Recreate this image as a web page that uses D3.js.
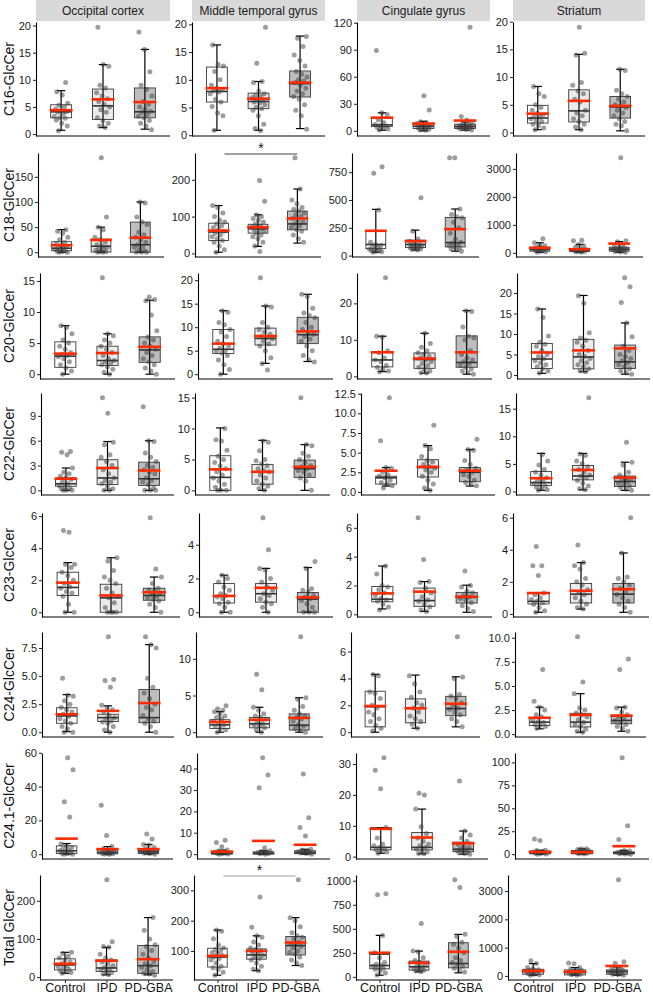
<!DOCTYPE html>
<html>
<head>
<meta charset="utf-8">
<script src="https://cdn.jsdelivr.net/npm/d3@7"></script>
<style>
  body { margin: 0; background: #fff; }
  text { font-family: "Liberation Sans", Arial, sans-serif; }
</style>
</head>
<body>
<div id="chart"></div>
<script>
// categories
var regions = ["Occipital cortex", "Middle temporal gyrus", "Cingulate gyrus", "Striatum"];
var groups = ["Control", "IPD", "PD-GBA"];
var lipids = ["C16-GlcCer", "C18-GlcCer", "C20-GlcCer", "C22-GlcCer",
  "C23-GlcCer", "C24-GlcCer", "C24.1-GlcCer", "Total GlcCer"];

// y tick values per lipid (row) and region (column)
var yTicks = [
  [[0, 5, 10, 15, 20], [0, 5, 10, 15, 20], [0, 30, 60, 90, 120], [0, 5, 10, 15, 20]],
  [[0, 50, 100, 150], [0, 100, 200], [0, 250, 500, 750], [0, 1000, 2000, 3000]],
  [[0, 5, 10, 15], [0, 5, 10, 15, 20], [0, 10, 20], [0, 5, 10, 15, 20]],
  [[0, 3, 6, 9], [0, 5, 10, 15], [0, 2.5, 5, 7.5, 10, 12.5], [0, 5, 10, 15]],
  [[0, 2, 4, 6], [0, 2, 4], [0, 2, 4, 6], [0, 2, 4, 6]],
  [[0, 2.5, 5, 7.5], [0, 5, 10], [0, 2, 4, 6], [0, 2.5, 5, 7.5, 10]],
  [[0, 20, 40, 60], [0, 10, 20, 30, 40], [0, 10, 20, 30], [0, 25, 50, 75, 100]],
  [[0, 100, 200], [100, 200, 300], [0, 250, 500, 750, 1000], [0, 1000, 2000, 3000]]
];

// box stats: [lower whisker, q1, median, q3, upper whisker]
var boxC16 = [
  [[0.7, 3.0, 4.1, 5.4, 8.0], [1.2, 2.7, 5.2, 8.3, 12.8], [0.9, 3.0, 4.1, 8.5, 15.6]],
  [[0.9, 6.0, 7.9, 12.3, 16.3], [0.9, 4.8, 6.1, 7.6, 9.7], [1.2, 6.9, 9.3, 11.6, 17.9]],
  [[0.7, 4.8, 6.6, 14.7, 20], [0, 2.6, 5.1, 8.4, 10.6], [0.7, 2.6, 4.8, 7.3, 9.9]],
  [[0.5, 1.7, 2.6, 4.9, 8.3], [0.5, 1.9, 3.9, 7.7, 14.1], [0.3, 2.6, 4.6, 6.5, 11.4]]
];
var boxC18 = [
  [[0, 3, 8, 21, 45], [0, 0.5, 12, 26, 50], [0, 0, 15, 60, 100]],
  [[3, 35, 58, 82, 130], [19, 55, 67, 79, 105], [28, 64, 80, 115, 175]],
  [[30, 63, 100, 223, 416], [50, 72, 100, 139, 229], [40, 78, 117, 343, 419]],
  [[20, 60, 120, 200, 360], [20, 50, 90, 140, 300], [20, 60, 130, 200, 400]]
];
var boxC20 = [
  [[0, 1.1, 2.9, 5.2, 7.8], [0, 1.4, 2.2, 4.5, 6.5], [0, 1.9, 3.9, 6.0, 11.9]],
  [[0, 4.4, 5.3, 9.5, 13.5], [2.3, 6.2, 7.6, 9.8, 14.5], [2.7, 6.5, 8.4, 12.1, 17]],
  [[1.3, 2.6, 4.5, 6.8, 11], [0.9, 2.2, 4.6, 6.4, 11.8], [0.6, 2.5, 3.8, 11.1, 18]],
  [[0.4, 1.6, 3.9, 7.7, 16.1], [0.8, 1.5, 4.4, 8.7, 19.4], [0.2, 1.6, 3.2, 7.3, 12.7]]
];
var boxC22 = [
  [[0, 0.5, 0.8, 1.5, 2.7], [0, 0.7, 1.5, 3.7, 5.9], [0, 0.6, 1.4, 3.4, 6.0]],
  [[0, 0, 2.1, 5.6, 10.1], [0, 1.0, 3.0, 4.2, 8.1], [0, 2.1, 3.5, 4.9, 7.4]],
  [[0.75, 1.0, 1.8, 2.0, 3.1], [0.2, 1.9, 3.1, 4.1, 5.9], [0.75, 1.3, 2.5, 3.1, 5.4]],
  [[0.2, 1.1, 1.6, 3.6, 6.9], [0.3, 2.1, 2.8, 4.7, 6.9], [0.2, 0.9, 1.8, 2.8, 5.3]]
];
var boxC23 = [
  [[0, 1.05, 1.55, 2.5, 3.1], [0, 0, 0.9, 1.75, 3.4], [0, 0.75, 1.05, 1.5, 2.2]],
  [[0, 0.55, 0.95, 1.7, 2.2], [0, 0.6, 1.1, 1.7, 2.6], [0, 0, 0.78, 1.17, 2.65]],
  [[0.37, 0.87, 1.05, 1.93, 3.35], [0.2, 0.55, 0.95, 1.82, 2.27], [0.14, 0.78, 1.17, 1.52, 2.02]],
  [[0.1, 0.62, 0.78, 1.27, 1.33], [0.3, 0.68, 1.23, 1.9, 3.2], [0.1, 0.68, 1.23, 1.9, 3.8]]
];
var boxC24 = [
  [[0.05, 0.8, 1.45, 2.18, 3.35], [0, 0.95, 1.3, 1.6, 2.35], [0, 0.85, 1.3, 3.8, 7.8]],
  [[0, 0.5, 1.0, 1.7, 2.8], [0, 0.6, 1.15, 2.0, 3.4], [0, 0.3, 0.95, 2.5, 4.7]],
  [[0, 0.4, 1.9, 3.05, 4.3], [0.3, 0.7, 1.78, 2.48, 4.25], [0.4, 1.23, 1.76, 2.67, 4.12]],
  [[0.55, 0.9, 1.25, 1.7, 2.8], [0.2, 0.75, 1.25, 2.16, 4.2], [0.3, 1.08, 1.42, 1.83, 2.8]]
];
var boxC241 = [
  [[0, 0.4, 2.0, 4.9, 6.3], [0, 0.2, 1.0, 2.0, 4.5], [0, 0.4, 1.4, 2.4, 5.7]],
  [[0, 0, 0.5, 1.1, 1.9], [0, 0, 0.5, 1.1, 1.6], [0, 0.2, 0.8, 1.6, 2.3]],
  [[1.1, 2.2, 3.0, 9.4, 9.4], [0.9, 2.2, 3.0, 7.8, 15.4], [0.8, 1.6, 2.4, 4.7, 8.3]],
  [[0, 0.4, 1.5, 3.3, 4.3], [0, 0.4, 1.8, 4.0, 5.8], [0, 0.4, 1.5, 2.5, 4]]
];
var boxTot = [
  [[10, 19, 32, 48, 65], [6, 15, 24, 45, 78], [6, 10, 30, 83, 156]],
  [[20, 47, 80, 109, 169], [35, 73, 87, 107, 150], [52, 87, 118, 148, 210]],
  [[17, 84, 118, 233, 432], [52, 70, 105, 164, 268], [42, 94, 139, 355, 442]],
  [[24, 59, 153, 235, 435], [24, 35, 118, 212, 294], [24, 59, 153, 212, 318]]
];

// group means (red bars)
var meanC16 = [[4.4, 6.4, 5.9], [8.5, 6.6, 9.5], [14.6, 8.0, 11.4], [3.4, 5.7, 4.8]];
var meanC18 = [[14, 24.5, 29], [62, 71, 95], [223, 130, 238], [180, 130, 330]];
var meanC20 = [[3.3, 3.4, 4.4], [6.5, 8.1, 9.1], [6.6, 4.9, 6.6], [5.5, 6.0, 6.5]];
var meanC22 = [[1.4, 2.7, 2.4], [3.4, 3.0, 3.8], [2.7, 3.2, 2.7], [2.4, 3.9, 2.5]];
var meanC23 = [[1.85, 1.05, 1.25], [0.97, 1.45, 0.88], [1.45, 1.57, 1.22], [1.3, 1.44, 1.54]];
var meanC24 = [[1.6, 1.9, 2.6], [1.4, 1.7, 1.95], [1.95, 1.78, 2.12], [1.7, 2.0, 1.93]];
var meanC241 = [[9.2, 3.0, 3.0], [1.2, 6.2, 4.4], [9.0, 6.2, 4.3], [2.5, 2.2, 8.7]];
var meanTot = [[35, 43, 47], [84, 100, 128], [251, 146, 261], [176, 153, 353]];

// individual samples
var ptsC16 = [
  [[0.6, 1.5, 2.0, 2.6, 2.9, 3.0, 3.3, 3.7, 4.0, 4.1, 4.3, 4.6, 5.0, 5.3, 5.7, 7.2, 7.8, 9.5],
   [1.2, 1.5, 2.0, 2.5, 3.0, 4.0, 4.5, 5.0, 5.5, 6.0, 6.5, 7.0, 7.6, 8.5, 9.0, 12.5, 12.8, 19.7],
   [0.8, 1.5, 2.0, 2.5, 3.0, 3.3, 3.6, 4.0, 4.2, 4.6, 5.0, 5.5, 6.0, 7.0, 8.2, 9.0, 11.5, 15.6, 18.8]],
  [[0.9, 3.5, 4.0, 5.2, 6.0, 6.5, 7.5, 7.8, 8.0, 8.2, 8.5, 9.0, 10.0, 11.5, 12.5, 12.8, 16.3],
   [0.8, 1.2, 2.0, 3.5, 4.5, 4.8, 5.0, 5.5, 5.8, 6.0, 6.2, 6.5, 6.8, 7.0, 7.2, 7.5, 8.0, 9.5, 9.7, 13.0, 19.5],
   [1.1, 3.5, 4.5, 5.5, 6.5, 7.0, 7.5, 8.0, 8.5, 9.0, 9.5, 9.8, 10.0, 10.5, 11.0, 11.5, 12.5, 13.5, 14.5, 16.0, 17.5, 17.8]],
  [[1, 2, 3, 4, 5, 6, 7, 9, 12, 18, 20, 89],
   [0.5, 1, 1.5, 2, 3, 3.5, 4, 4.5, 5, 5.5, 6, 7, 8, 9, 10, 23, 39],
   [1, 1.5, 2, 2.5, 3, 3.5, 4, 4.5, 5, 5.5, 6, 7, 8, 9.5, 12, 16, 115]],
  [[0.5, 0.8, 1.2, 1.5, 2, 2.2, 2.5, 2.8, 3, 3.2, 3.5, 4, 4.5, 5, 6.5, 7, 8.3],
   [0.5, 1, 1.5, 2, 2.5, 3, 3.5, 4, 5.5, 6, 7, 7.5, 8.5, 9, 14, 14.3, 19],
   [0.3, 1.2, 1.5, 2, 2.5, 3, 3.5, 4, 4.5, 4.8, 5, 5.5, 6, 6.5, 7, 7.6, 11.2, 11.4]]
];
var ptsC18 = [
  [[0, 0, 1, 2, 3, 5, 6, 8, 10, 12, 14, 17, 20, 25, 30, 38, 42, 45],
   [0, 0, 1, 2, 4, 6, 8, 10, 12, 15, 20, 25, 30, 45, 50, 70, 188],
   [0, 0, 0, 3, 6, 10, 12, 15, 20, 25, 30, 35, 40, 55, 60, 70, 98, 100]],
  [[3, 10, 20, 30, 35, 40, 45, 50, 55, 60, 65, 70, 75, 80, 85, 90, 100, 110, 125, 130],
   [5, 20, 30, 40, 45, 50, 55, 60, 62, 65, 68, 70, 72, 75, 80, 85, 90, 95, 100, 105, 142, 198],
   [30, 40, 50, 60, 65, 70, 75, 80, 85, 90, 95, 100, 105, 110, 115, 120, 125, 135, 145, 175, 260]],
  [[30, 35, 40, 45, 50, 55, 60, 70, 80, 90, 100, 120, 410, 740, 800],
   [50, 55, 60, 65, 70, 75, 80, 85, 90, 95, 100, 110, 130, 150, 220, 520],
   [40, 50, 60, 70, 80, 90, 100, 110, 120, 150, 200, 250, 300, 340, 350, 370, 420, 880, 880]],
  [[20, 40, 60, 80, 100, 120, 150, 180, 200, 250, 300, 360, 500],
   [20, 30, 50, 60, 80, 90, 100, 120, 150, 200, 250, 300, 430, 450],
   [20, 30, 50, 70, 90, 110, 130, 150, 170, 200, 250, 300, 400, 430, 3400]]
];
var ptsC20 = [
  [[0, 0.5, 1, 1.5, 2, 2.5, 2.8, 3, 3.2, 3.5, 4, 4.5, 5, 5.5, 6.5, 7.5, 7.8],
   [0, 0.3, 0.8, 1.2, 1.5, 1.8, 2, 2.2, 2.5, 3, 3.5, 4, 4.5, 5, 5.5, 6.2, 6.5, 15.5],
   [0, 0.5, 1, 1.5, 2, 2.5, 3, 3.5, 4, 4.5, 5, 5.5, 6, 7, 9.5, 11.8, 12, 12.4]],
  [[0, 1, 2, 3, 4, 4.5, 4.8, 5, 5.5, 6, 6.5, 7, 8, 9, 9.5, 10.5, 11, 13.2, 13.5],
   [0.9, 2.2, 3.5, 5, 6, 6.5, 7, 7.5, 7.8, 8, 8.5, 9, 9.5, 10, 11, 14.3, 14.5, 20.5],
   [2.6, 3, 4, 5, 6, 7, 7.5, 8, 8.5, 9, 9.5, 10, 11, 12, 12.5, 13, 14, 16.5, 17]],
  [[1.3, 1.5, 2, 2.5, 3, 4, 4.5, 5, 6.5, 7, 10.8, 11, 27],
   [0.9, 1, 1.5, 2, 2.5, 3, 3.5, 4, 4.5, 5, 5.5, 6, 6.5, 7, 8, 9, 11.8],
   [0.6, 1, 1.5, 2, 2.5, 3, 3.5, 4, 4.5, 5, 6, 7, 10, 10.5, 11, 13.5, 17.8, 18]],
  [[0.5, 1, 1.5, 2, 2.5, 3, 3.5, 4, 4.5, 5, 6, 7, 7.5, 8, 9.5, 14, 16.1],
   [0.8, 1, 1.5, 2, 2.5, 3, 3.5, 4, 4.5, 5, 6, 7, 8, 8.5, 9, 10.3, 17.5, 19.3],
   [0.2, 0.5, 1, 1.5, 2, 2.5, 3, 3.5, 4, 4.5, 5, 6, 7, 9.3, 12.7, 17.7, 21.5, 23.7]]
];
var ptsC22 = [
  [[0, 0, 0, 0.2, 0.3, 0.5, 0.6, 0.8, 1, 1.3, 1.5, 1.7, 2, 2.2, 2.7, 4.3, 4.6, 4.7],
   [0, 0, 0.2, 0.5, 0.8, 1, 1.2, 1.5, 2, 2.5, 3, 3.5, 4, 4.3, 5.5, 5.8, 9.3, 11.2],
   [0, 0, 0, 0.3, 0.7, 1, 1.2, 1.5, 2, 2.2, 2.5, 2.8, 3, 3.5, 4, 4.5, 5.9, 6, 10.1]],
  [[0, 0, 0, 0.5, 1, 1.5, 2, 2.5, 3, 3.5, 4, 4.5, 5, 5.5, 6.5, 8, 8.2, 10],
   [0, 0.3, 0.7, 1, 1.5, 2, 2.5, 3, 3.2, 3.5, 4, 4.3, 4.8, 5, 6.4, 7.8, 8],
   [0, 1.5, 2, 2.5, 3, 3.2, 3.5, 3.8, 4, 4.5, 5, 5.5, 6, 7.2, 7.4, 15]],
  [[0.5, 0.8, 1, 1.2, 1.5, 1.8, 2, 2.2, 2.5, 3, 3.1, 6.5, 12],
   [0.2, 0.5, 1, 1.5, 2, 2.5, 2.8, 3, 3.2, 3.5, 3.8, 4, 4.5, 5.5, 5.9, 8.5],
   [0.8, 1, 1.2, 1.5, 2, 2.2, 2.5, 2.8, 3, 3.5, 4, 5.3, 5.4, 6.7]],
  [[0.2, 0.3, 0.5, 0.8, 1, 1.2, 1.5, 1.8, 2, 2.5, 3, 3.5, 4, 4.8, 5.5, 6.7],
   [0.3, 0.5, 1, 1.5, 2, 2.5, 2.8, 3, 3.5, 4, 4.5, 5, 5.5, 6.5, 6.8, 17],
   [0.2, 0.4, 0.7, 1, 1.2, 1.5, 1.8, 2, 2.2, 2.5, 3, 3.5, 4.8, 5.3, 8.9]]
];
var ptsC23 = [
  [[0, 0, 0.5, 1, 1.2, 1.3, 1.5, 1.6, 1.8, 2, 2.3, 2.5, 2.8, 3, 3, 5, 5.1],
   [0, 0, 0, 0, 0.3, 0.6, 0.9, 1, 1.2, 1.5, 1.8, 2, 2.2, 2.6, 3.2, 3.4],
   [0, 0.3, 0.5, 0.7, 0.8, 0.9, 1, 1.1, 1.2, 1.3, 1.4, 1.5, 1.8, 2.2, 2.7, 5.9]],
  [[0, 0, 0.3, 0.5, 0.6, 0.8, 0.9, 1, 1.1, 1.3, 1.5, 1.8, 2, 2.2],
   [0, 0.3, 0.5, 0.6, 0.8, 1, 1.1, 1.3, 1.5, 1.8, 2, 2.5, 2.6, 3.7, 5.6],
   [0, 0, 0, 0.3, 0.5, 0.7, 0.8, 0.9, 1, 1.2, 1.3, 1.4, 2.6, 3]],
  [[0.3, 0.5, 0.7, 0.9, 1, 1.1, 1.3, 1.5, 1.7, 1.9, 2, 2.8, 3.35],
   [0.2, 0.3, 0.5, 0.7, 0.9, 1, 1.2, 1.5, 1.8, 2.2, 2.27, 3.8, 6.7],
   [0.2, 0.4, 0.6, 0.8, 1, 1.1, 1.2, 1.3, 1.5, 1.6, 1.9, 2, 3]],
  [[0.1, 0.2, 0.4, 0.6, 0.7, 0.8, 0.9, 1, 1.2, 1.3, 2.4, 3, 3, 4.2],
   [0.3, 0.4, 0.6, 0.8, 1, 1.2, 1.3, 1.5, 1.8, 2, 2.2, 2.8, 3, 3.2, 4.3],
   [0.1, 0.4, 0.6, 0.8, 1, 1.2, 1.4, 1.6, 1.8, 2, 2.2, 2.3, 3.8, 6]]
];
var ptsC24 = [
  [[0, 0, 0.3, 0.5, 0.8, 1, 1.2, 1.4, 1.6, 1.8, 2, 2.2, 2.5, 2.8, 3.2, 3.3, 4.8],
   [0, 0.2, 0.5, 0.8, 0.9, 1, 1.2, 1.3, 1.5, 1.8, 2, 2.2, 2.4, 4, 4.6, 4.7, 8.5],
   [0, 0.5, 0.8, 1, 1.2, 1.5, 2, 2.2, 2.5, 3, 3.5, 4, 4.8, 7.5, 7.8, 8.5]],
  [[0, 0.3, 0.5, 0.8, 1, 1.2, 1.5, 1.8, 2, 2.2, 2.5, 2.8, 3, 3.2, 3.6],
   [0, 0.3, 0.6, 0.8, 1, 1.2, 1.5, 1.8, 2, 2.2, 2.5, 3, 3.4, 5.8, 7.9],
   [0, 0.2, 0.5, 0.8, 1, 1.5, 1.8, 2, 2.2, 2.5, 3, 3.5, 4.5, 4.7, 13]],
  [[0.1, 0.3, 0.5, 0.8, 1, 1.3, 1.5, 1.8, 2, 2.5, 2.9, 3, 4.2, 4.3],
   [0.3, 0.6, 0.8, 1, 1.2, 1.5, 1.8, 2, 2.2, 2.6, 3, 3.6, 4.2],
   [0.4, 0.8, 1, 1.3, 1.5, 1.7, 1.8, 2, 2.2, 2.5, 2.7, 2.8, 4, 4.1, 7.1]],
  [[0.6, 0.8, 0.9, 1, 1.2, 1.3, 1.5, 1.8, 2, 2.5, 2.8, 3.4, 6.7],
   [0.2, 0.3, 0.5, 0.8, 1, 1.2, 1.5, 1.8, 2, 2.2, 2.5, 2.7, 4.2, 5.4, 10.1],
   [0.3, 0.6, 0.8, 1, 1.2, 1.4, 1.6, 1.8, 2, 2.3, 2.7, 2.8, 6.7, 7.8]]
];
var ptsC241 = [
  [[0, 0, 0.2, 0.5, 1, 1.5, 2, 2.5, 3, 4, 5, 6, 22, 31, 50, 57],
   [0, 0.1, 0.2, 0.3, 0.5, 0.8, 1, 1.5, 2, 3, 4.5, 11, 29],
   [0, 0.3, 0.5, 1, 1.5, 2, 2.5, 3, 4, 5.5, 5.7, 9, 12]],
  [[0, 0.1, 0.2, 0.3, 0.5, 0.8, 1, 1.2, 1.5, 1.9, 3.5, 5.5, 6.5],
   [0, 0.2, 0.3, 0.5, 0.8, 1, 1.2, 1.6, 3, 31, 37, 45],
   [0, 0.3, 0.5, 0.8, 1, 1.2, 1.5, 2, 2.3, 8.5, 12.5, 17, 37.5]],
  [[1.1, 1.5, 2, 2.2, 2.5, 3, 3.5, 4, 6, 9.4, 22, 28, 32],
   [0.9, 1, 1.5, 2, 2.5, 3, 3.5, 4, 5, 6, 7.5, 9.7, 15.4, 20, 20.5],
   [0.8, 1, 1.2, 1.5, 1.8, 2, 2.2, 2.5, 3, 3.5, 4, 5, 6, 7, 8.3, 24.5]],
  [[0, 0.3, 0.5, 1, 1.5, 2, 2.5, 3, 4, 4.3, 15, 16.5],
   [0.2, 0.5, 1, 1.5, 2, 2.5, 3, 4, 4.5, 5, 5.8, 6],
   [0, 0.2, 0.5, 1, 1.5, 2, 2.5, 3, 3.5, 4, 16, 31, 105]]
];
var ptsTot = [
  [[10, 12, 14, 17, 20, 25, 28, 30, 35, 40, 45, 50, 55, 62, 65],
   [6, 8, 12, 15, 20, 22, 25, 30, 35, 40, 45, 50, 60, 78, 80, 93, 255],
   [5, 8, 10, 15, 20, 25, 30, 35, 40, 50, 60, 70, 80, 85, 100, 123, 156]],
  [[20, 30, 40, 45, 50, 60, 70, 75, 80, 85, 90, 95, 100, 105, 110, 120, 140, 165, 169],
   [35, 40, 50, 60, 70, 75, 80, 85, 90, 95, 100, 105, 110, 120, 130, 145, 150, 178, 278],
   [52, 60, 70, 80, 90, 95, 100, 110, 115, 120, 125, 130, 140, 145, 150, 160, 180, 200, 210, 335]],
  [[20, 40, 60, 80, 90, 100, 110, 120, 130, 150, 200, 250, 430, 855, 865],
   [52, 60, 70, 80, 90, 100, 110, 130, 150, 170, 200, 260, 268, 555],
   [50, 70, 90, 110, 130, 150, 170, 200, 250, 300, 340, 360, 420, 442, 930, 1010]],
  [[24, 40, 60, 80, 100, 120, 150, 180, 200, 220, 250, 300, 435, 540],
   [24, 40, 60, 80, 100, 120, 150, 200, 220, 250, 294, 430, 460],
   [24, 40, 60, 80, 100, 120, 150, 170, 200, 250, 280, 318, 450, 500, 3400]]
];

// significant comparisons (Control vs PD-GBA): [row, column]
var sigPanels = [[1, 1], [7, 1]];

var boxes = [boxC16, boxC18, boxC20, boxC22, boxC23, boxC24, boxC241, boxTot];
var means = [meanC16, meanC18, meanC20, meanC22, meanC23, meanC24, meanC241, meanTot];
var points = [ptsC16, ptsC18, ptsC20, ptsC22, ptsC23, ptsC24, ptsC241, ptsTot];

// layout
var svgWidth = 653;
var svgHeight = 995;
var rowTop = [22, 153, 273, 393, 513, 632, 753, 875];
var rowBottom = [136, 257, 379, 495, 617, 737, 859, 980];
var panelX = [
  [[36, 170], [192, 325], [357, 490], [513, 645]],
  [[38, 164], [195, 321], [352, 479], [516, 643]],
  [[40, 175], [198, 333], [357, 492], [517, 650]],
  [[41, 174], [195, 330], [361, 495], [516, 650]],
  [[42, 180], [199, 333], [357, 492], [513, 649]],
  [[42, 174], [196, 323], [351, 480], [515, 646]],
  [[42, 173], [197, 330], [356, 488], [515, 649]],
  [[40, 173], [194, 319], [356, 482], [508, 642]]
];
var fills = ["#ffffff", "#ebebeb", "#bebebe"];

var svg = d3.select("#chart")
  .append("svg")
  .attr("width", svgWidth)
  .attr("height", svgHeight);

// deterministic jitter offset in [-0.5, 0.5)
function jit(k) {
  return ((k * 0.618034 + 0.31) % 1) - 0.5;
}

lipids.forEach(function (lipid, r) {
  regions.forEach(function (region, c) {
    var g = svg.append("g");
    var left = panelX[r][c][0], right = panelX[r][c][1];
    var top = rowTop[r], bottom = rowBottom[r];

    var x = d3.scalePoint().domain(groups).range([left, right]).padding(0.6);
    var step = x.step();

    var all = [];
    groups.forEach(function (grp, i) {
      all = all.concat(points[r][c][i], boxes[r][c][i], [means[r][c][i]]);
    });
    var lo = d3.min(all), hi = d3.max(all);
    var pad = (hi - lo) * 0.05;
    var y = d3.scaleLinear().domain([lo - pad, hi + pad]).range([bottom, top]);

    // strip header
    if (r === 0) {
      g.append("rect")
        .attr("x", left).attr("y", 0)
        .attr("width", right - left).attr("height", 21)
        .attr("fill", "#d9d9d9");
      g.append("text")
        .attr("x", (left + right) / 2).attr("y", 15)
        .attr("text-anchor", "middle")
        .style("font-size", "12px")
        .style("fill", "#1a1a1a")
        .text(region);
    }

    // boxes
    groups.forEach(function (grp, i) {
      var b = boxes[r][c][i];
      var cx = x(grp);
      var bw = step * 0.5;
      g.append("rect")
        .attr("x", cx - bw / 2).attr("y", y(b[3]))
        .attr("width", bw).attr("height", Math.max(0.5, y(b[1]) - y(b[3])))
        .attr("fill", fills[i])
        .attr("stroke", "#3a3a3a").attr("stroke-width", 0.9);
      g.append("line")
        .attr("x1", cx - bw / 2).attr("x2", cx + bw / 2)
        .attr("y1", y(b[2])).attr("y2", y(b[2]))
        .attr("stroke", "#333").attr("stroke-width", 1.6);
      // error bar
      var cw = step * 0.1;
      g.append("line")
        .attr("x1", cx).attr("x2", cx)
        .attr("y1", y(b[0])).attr("y2", y(b[4]))
        .attr("stroke", "#000").attr("stroke-width", 1.2);
      [b[0], b[4]].forEach(function (v) {
        g.append("line")
          .attr("x1", cx - cw).attr("x2", cx + cw)
          .attr("y1", y(v)).attr("y2", y(v))
          .attr("stroke", "#000").attr("stroke-width", 1.2);
      });
    });

    // samples
    groups.forEach(function (grp, i) {
      var cx = x(grp);
      g.selectAll(null)
        .data(points[r][c][i])
        .enter()
        .append("circle")
        .attr("cx", function (d, k) { return cx + jit(k + i * 7) * step * 0.34; })
        .attr("cy", function (d) { return y(d); })
        .attr("r", 2.5)
        .attr("fill", "#3c3c3c")
        .attr("opacity", 0.5);
    });

    // means
    groups.forEach(function (grp, i) {
      var cx = x(grp);
      var bw = step * 0.5;
      g.append("line")
        .attr("x1", cx - bw / 2 - 1).attr("x2", cx + bw / 2 + 1)
        .attr("y1", y(means[r][c][i])).attr("y2", y(means[r][c][i]))
        .attr("stroke", "#ff2a00").attr("stroke-width", 2.6);
    });

    // axes
    var ticks = yTicks[r][c];
    var dec = ticks.some(function (t) { return t % 1 !== 0; });
    var yAxis = g.append("g")
      .attr("transform", "translate(" + left + ",0)")
      .call(d3.axisLeft(y).tickValues(ticks).tickSize(3).tickSizeOuter(0)
        .tickPadding(2).tickFormat(d3.format(dec ? ".1f" : "d")));
    yAxis.selectAll("text").style("font-size", "11px").style("fill", "#222")
      .style("font-family", "Liberation Sans, Arial, sans-serif");
    yAxis.selectAll("line").attr("stroke", "#222");
    yAxis.select(".domain").attr("stroke", "#000").attr("stroke-width", 1.1);

    var xAxisGen = d3.axisBottom(x).tickSizeOuter(0);
    if (r === lipids.length - 1) {
      xAxisGen.tickSize(3);
    } else {
      xAxisGen.tickSize(0).tickFormat("");
    }
    var xAxis = g.append("g")
      .attr("transform", "translate(0," + bottom + ")")
      .call(xAxisGen);
    xAxis.select(".domain").attr("stroke", "#000").attr("stroke-width", 1.1)
      .attr("d", "M" + left + ",0H" + right);
    xAxis.selectAll("line").attr("stroke", "#222");
    xAxis.selectAll("text")
      .attr("y", 12).attr("dy", null)
      .style("font-size", "12.5px").style("fill", "#111")
      .style("font-family", "Liberation Sans, Arial, sans-serif");

    // significance bar
    sigPanels.forEach(function (s) {
      if (s[0] === r && s[1] === c) {
        var x1 = x(groups[0]) + step * 0.15, x2 = x(groups[2]);
        g.append("line")
          .attr("x1", x1).attr("x2", x2)
          .attr("y1", top + 1).attr("y2", top + 1)
          .attr("stroke", r === 1 ? "#444" : "#999").attr("stroke-width", 1.1);
        g.append("text")
          .attr("x", (x1 + x2) / 2).attr("y", top)
          .attr("text-anchor", "middle")
          .style("font-size", "14px")
          .style("fill", "#111")
          .text("*");
      }
    });
  });

  // row title
  svg.append("text")
    .attr("transform", "translate(14," + (rowTop[r] + rowBottom[r]) / 2 + ") rotate(-90)")
    .attr("text-anchor", "middle")
    .style("font-size", "14px")
    .style("fill", "#111")
    .text(lipid);
});
</script>
</body>
</html>
